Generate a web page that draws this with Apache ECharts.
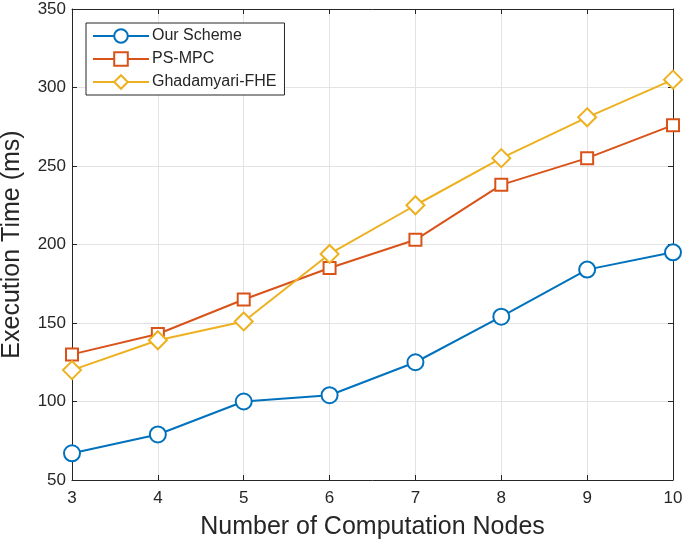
<!DOCTYPE html>
<html lang="en">
<head>
    <meta charset="UTF-8">
    <title>Execution Time</title>
    <script type="text/javascript" src="https://cdn.jsdelivr.net/npm/echarts@6/dist/echarts.min.js"></script>
    <style>
        body{
            margin: 0;
            background: #fff;
        }
        #main{
            width: 685px;
            height: 547px;
        }
    </style>
</head>
<body>
<div id="main"></div>
<script>
    // x: number of computation nodes
    const nodes = [3, 4, 5, 6, 7, 8, 9, 10];
    const ourScheme = [67, 79, 100, 104, 125, 154, 184, 195];
    const psMpc = [130, 143, 165, 185, 203, 238, 255, 276];
    const ghadamyariFhe = [120, 139, 151, 194, 225, 255, 281, 305];
    const seriesNames = ['Our Scheme', 'PS-MPC', 'Ghadamyari-FHE'];

    const textColor = '#262626';
    const fontFamily = 'Liberation Sans, Arial, sans-serif';

    function pairs(values) {
        return nodes.map((n, i) => [n, values[i]]);
    }

    function makeSeries(name, values, color, symbol, size) {
        return {
            name: name,
            type: 'line',
            data: pairs(values),
            symbol: symbol,
            symbolSize: size,
            showAllSymbol: true,
            lineStyle: {color: color, width: 2},
            itemStyle: {color: '#fff', borderColor: color, borderWidth: 2},
            emphasis: {disabled: true},
            z: 3
        };
    }

    const frameAxis = {
        axisLine: {show: true, lineStyle: {color: textColor, width: 1}},
        axisTick: {show: true, inside: true, length: 5, lineStyle: {color: textColor}},
        axisLabel: {show: false},
        splitLine: {show: false}
    };

    const chart = echarts.init(document.getElementById('main'));
    const option = {
        backgroundColor: '#fff',
        animation: false,
        grid: {left: 72, right: 12, top: 9, bottom: 67, outerBoundsMode: 'none'},
        legend: {
            left: 86,
            top: 23,
            orient: 'vertical',
            data: seriesNames,
            itemWidth: 56,
            itemHeight: 17,
            itemGap: 7,
            padding: [5, 8, 5, 6],
            borderColor: textColor,
            borderWidth: 1,
            backgroundColor: '#fff',
            textStyle: {color: textColor, fontSize: 16, fontFamily: fontFamily, padding: [0, 0, 0, -2]}
        },
        xAxis: [
            {
                type: 'value',
                min: 3,
                max: 10,
                interval: 1,
                name: 'Number of Computation Nodes',
                nameLocation: 'middle',
                nameGap: 35,
                nameTextStyle: {color: textColor, fontSize: 25, fontFamily: fontFamily},
                axisLine: {show: true, lineStyle: {color: textColor}},
                axisTick: {show: true, inside: true, length: 5, lineStyle: {color: textColor}},
                axisLabel: {color: textColor, fontSize: 17, fontFamily: fontFamily, margin: 10},
                splitLine: {show: true, lineStyle: {color: '#e3e3e3', width: 1}}
            },
            Object.assign({type: 'value', position: 'top', min: 3, max: 10, interval: 1}, frameAxis)
        ],
        yAxis: [
            {
                type: 'value',
                min: 50,
                max: 350,
                interval: 50,
                name: 'Execution Time (ms)',
                nameLocation: 'middle',
                nameGap: 47,
                nameTextStyle: {color: textColor, fontSize: 25, fontFamily: fontFamily},
                axisLine: {show: true, lineStyle: {color: textColor}},
                axisTick: {show: true, inside: true, length: 5, lineStyle: {color: textColor}},
                axisLabel: {color: textColor, fontSize: 17, fontFamily: fontFamily, margin: 6},
                splitLine: {show: true, lineStyle: {color: '#e3e3e3', width: 1}}
            },
            Object.assign({type: 'value', position: 'right', min: 50, max: 350, interval: 50}, frameAxis)
        ],
        series: [
            makeSeries(seriesNames[0], ourScheme, '#0072BD', 'circle', 16),
            makeSeries(seriesNames[1], psMpc, '#D95319', 'rect', 12),
            makeSeries(seriesNames[2], ghadamyariFhe, '#EDB120', 'diamond', 18)
        ]
    };
    chart.setOption(option);
</script>
</body>
</html>
